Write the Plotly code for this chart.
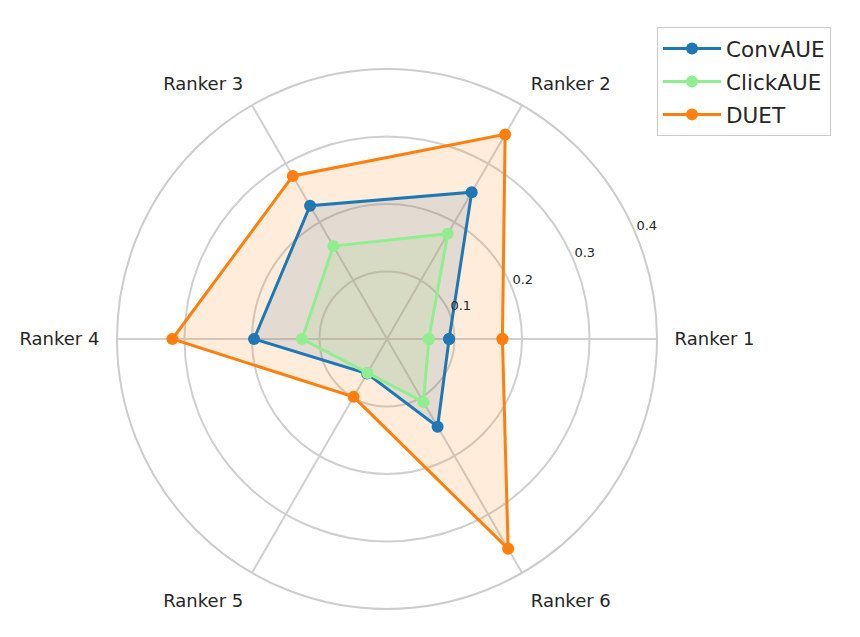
import plotly.graph_objects as go

categories = ["Ranker 1", "Ranker 2", "Ranker 3", "Ranker 4", "Ranker 5", "Ranker 6"]
conv_aue = [0.092, 0.251, 0.228, 0.197, 0.059, 0.150]
click_aue = [0.062, 0.180, 0.159, 0.126, 0.058, 0.108]
duet = [0.171, 0.350, 0.279, 0.318, 0.099, 0.359]
radial_ticks = [0.1, 0.2, 0.3, 0.4]

series = [
    ("ConvAUE", conv_aue, "#1f77b4", "rgba(31,119,180,0.15)"),
    ("ClickAUE", click_aue, "#90ee90", "rgba(144,238,144,0.15)"),
    ("DUET", duet, "#ff7f0e", "rgba(255,127,14,0.15)"),
]

n = len(categories)
angles = [i * 360.0 / n for i in range(n)]
theta_closed = angles + angles[:1]

R_MAX = 0.4       # main radial range
R_OVER = 0.44     # overlay range (same scale, larger extent) for tick labels
CX, CY, RAD = 387, 339, 270  # centre and radius in pixels
W, H = 860, 637

fig = go.Figure()
for name, vals, color, fillc in series:
    fig.add_trace(go.Scatterpolar(
        r=vals + vals[:1], theta=theta_closed,
        mode="lines", line=dict(width=0, color=fillc),
        fill="toself", fillcolor=fillc,
        showlegend=False, hoverinfo="skip",
    ))
for i, (name, vals, color, fillc) in enumerate(series):
    fig.add_trace(go.Scatterpolar(
        r=vals + vals[:1], theta=theta_closed,
        name=name, legendgroup=f"g{i}",
        mode="lines+markers",
        line=dict(color=color, width=3),
        marker=dict(color=color, size=12),
    ))
fig.add_trace(go.Scatterpolar(
    r=[t + 0.019 for t in radial_ticks], theta=[23.3] * len(radial_ticks),
    mode="text", text=[f"{t:.1f}" for t in radial_ticks],
    textfont=dict(size=13, color="#262626", family="DejaVu Sans"),
    textposition="middle center", cliponaxis=False,
    showlegend=False, hoverinfo="skip", subplot="polar2",
))

R2 = RAD * R_OVER / R_MAX
fig.update_layout(
    width=W, height=H,
    margin=dict(l=0, r=0, t=0, b=0),
    paper_bgcolor="white",
    font=dict(family="DejaVu Sans", color="#262626"),
    polar=dict(
        domain=dict(x=[(CX - RAD) / W, (CX + RAD) / W], y=[1 - (CY + RAD) / H, 1 - (CY - RAD) / H]),
        bgcolor="white",
        radialaxis=dict(
            range=[0, R_MAX], tickvals=radial_ticks, showticklabels=False,
            showline=False, ticks="",
            gridcolor="#cfcfcf", gridwidth=1.5,
        ),
        angularaxis=dict(
            rotation=0, direction="counterclockwise",
            tickmode="array", tickvals=angles, ticktext=categories,
            showline=True, linecolor="#cccccc", linewidth=2,
            gridcolor="#cfcfcf", gridwidth=1.5,
            ticks="outside", ticklen=13, tickcolor="rgba(0,0,0,0)",
            tickfont=dict(size=18, color="#262626"),
        ),
    ),
    polar2=dict(
        domain=dict(x=[(CX - R2) / W, (CX + R2) / W], y=[max(0, 1 - (CY + R2) / H), 1 - (CY - R2) / H]),
        bgcolor="rgba(0,0,0,0)",
        radialaxis=dict(range=[0, R_OVER], visible=False),
        angularaxis=dict(rotation=0, direction="counterclockwise", visible=False),
    ),
    legend=dict(
        x=657/860, y=1-27/637, xanchor="left", yanchor="top",
        font=dict(size=21.5, color="#262626"),
        bordercolor="#cccccc", borderwidth=1, bgcolor="white",
        tracegroupgap=2, itemwidth=58,
    ),
)

fig.write_html("out.html")
